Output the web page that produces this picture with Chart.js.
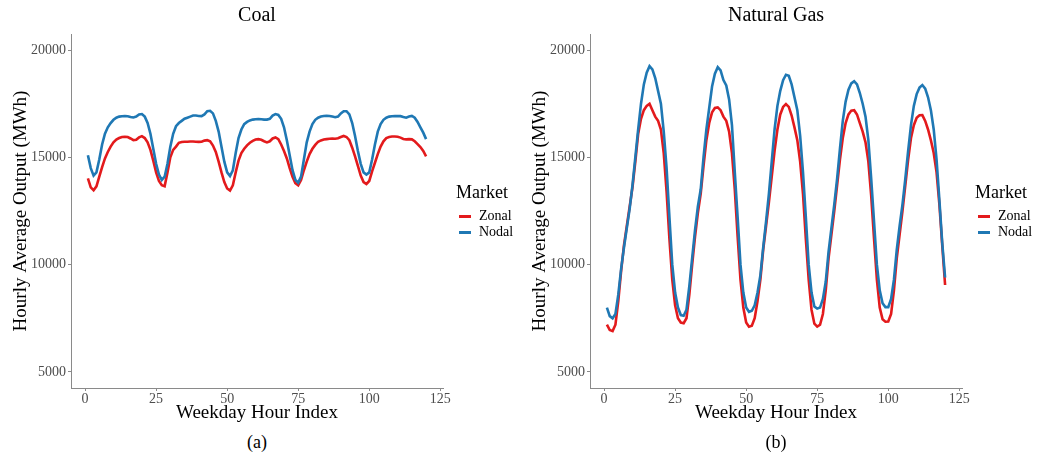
<!DOCTYPE html>
<html>
<head>
<meta charset="utf-8">
<script src="https://cdn.jsdelivr.net/npm/chart.js@4.4.1/dist/chart.umd.min.js"></script>
<style>
  html, body { margin: 0; padding: 0; background: #ffffff; }
  body { width: 1039px; height: 460px; position: relative; overflow: hidden; font-family: "Liberation Serif", "DejaVu Serif", serif; }
  .panel { position: absolute; top: 0; width: 520px; height: 460px; }
  .panel canvas { position: absolute; left: 0; top: 0; }
  .ptitle { position: absolute; top: 2px; left: 257px; transform: translateX(-50%); font-size: 20px; line-height: 24px; color: #000; white-space: nowrap; }
  .cap { position: absolute; top: 431px; left: 257px; transform: translateX(-50%); font-size: 18px; line-height: 22px; color: #000; white-space: nowrap; }
  .legend { position: absolute; left: 456px; top: 181px; color: #000; }
  .legend .lt { font-size: 18px; line-height: 22px; margin-bottom: 5px; }
  .legend .it { position: relative; height: 16px; font-size: 14px; line-height: 16px; padding-left: 23px; }
  .legend .it i { position: absolute; left: 3px; top: 7px; width: 12px; height: 2.5px; }
</style>
</head>
<body>
<div class="panel" id="p1" style="left:0px">
  <canvas id="c1" width="520" height="426"></canvas>
  <div class="ptitle">Coal</div>
  <div class="legend">
    <div class="lt">Market</div>
    <div class="it"><i style="background:#e31a1c"></i>Zonal</div>
    <div class="it"><i style="background:#1f78b4"></i>Nodal</div>
  </div>
  <div class="cap">(a)</div>
</div>
<div class="panel" id="p2" style="left:519px">
  <canvas id="c2" width="520" height="426"></canvas>
  <div class="ptitle">Natural Gas</div>
  <div class="legend">
    <div class="lt">Market</div>
    <div class="it"><i style="background:#e31a1c"></i>Zonal</div>
    <div class="it"><i style="background:#1f78b4"></i>Nodal</div>
  </div>
  <div class="cap">(b)</div>
</div>
<script>
// ---- data ----
const hours = Array.from({length: 120}, (_, i) => i + 1);
const xTicks = [0, 25, 50, 75, 100, 125];
const yTicks = [5000, 10000, 15000, 20000];
const seriesNames = ["Zonal", "Nodal"];

const coalZonal = [
  14020,13600,13470,13650,14100,14550,14950,15250,15500,15700,15830,15900,15950,15960,15950,15880,15800,15820,15930,15990,15900,15700,15350,14850,
  14300,13900,13700,13650,14300,15000,15350,15500,15680,15720,15730,15730,15740,15740,15730,15720,15730,15780,15800,15750,15550,15250,14800,14300,
  13850,13550,13450,13700,14300,14850,15200,15400,15560,15680,15770,15830,15850,15820,15750,15700,15750,15880,15930,15850,15600,15300,14950,14500,
  14100,13800,13700,13950,14400,14800,15150,15400,15580,15730,15790,15830,15850,15870,15880,15870,15890,15950,16000,15950,15800,15450,15050,14600,
  14150,13850,13760,13900,14350,14750,15150,15500,15750,15900,15950,15970,15970,15960,15920,15860,15840,15850,15840,15750,15620,15480,15300,15050
];
const coalNodal = [
  15100,14500,14150,14300,14900,15600,16100,16400,16600,16750,16850,16900,16920,16930,16920,16880,16860,16900,17000,17020,16900,16600,16100,15400,
  14700,14200,13950,14100,14700,15500,16100,16450,16600,16700,16800,16850,16900,16950,16950,16930,16920,17000,17150,17170,17050,16700,16200,15500,
  14800,14300,14130,14400,15200,15900,16300,16550,16650,16720,16760,16780,16790,16780,16760,16760,16800,16950,17020,16980,16800,16400,15800,15100,
  14400,13950,13820,14100,14900,15700,16200,16550,16750,16850,16900,16930,16940,16930,16900,16870,16900,17050,17150,17150,17000,16600,16000,15300,
  14700,14300,14200,14300,14900,15600,16200,16550,16750,16850,16900,16920,16930,16920,16920,16880,16850,16900,16930,16850,16650,16400,16150,15850
];
const gasZonal = [
  7200,6950,6900,7200,8300,9700,10900,11800,12700,13600,14800,16100,16800,17200,17400,17500,17200,16900,16700,16300,15200,13400,11200,9300,
  8100,7500,7300,7270,7500,8600,10000,11300,12400,13300,14600,15800,16600,17100,17300,17330,17200,16900,16700,16200,15200,13500,11300,9300,
  8000,7300,7110,7150,7500,8300,9300,10700,11800,12900,14100,15300,16300,17000,17350,17480,17350,16950,16400,15800,14800,13300,11200,9300,
  7900,7250,7110,7200,7700,8800,10300,11400,12500,13700,14900,15900,16600,17000,17180,17200,17000,16600,16200,15700,14800,13200,11200,9300,
  8000,7450,7340,7350,7700,8800,10300,11400,12500,13700,14900,15900,16500,16850,16960,16970,16700,16300,15800,15200,14300,12800,10900,9050
];
const gasNodal = [
  8000,7600,7500,7700,8600,9800,10800,11700,12600,13700,15000,16300,17500,18400,18950,19250,19100,18700,18100,17500,16200,14500,12200,10000,
  8700,8000,7650,7620,7900,9000,10300,11600,12700,13500,15000,16300,17300,18300,18900,19200,19050,18600,18350,17700,16500,14300,12200,10000,
  8700,8000,7800,7850,8100,8700,9500,10800,12000,13300,14800,16300,17400,18100,18600,18850,18800,18400,17800,17200,16000,14300,12200,10000,
  8700,8050,7950,8000,8400,9200,10600,11700,12800,14000,15400,16700,17600,18150,18450,18550,18400,18000,17500,16900,15800,14000,12000,10000,
  8800,8200,8020,8020,8400,9300,10700,11800,12800,14000,15300,16500,17400,17950,18250,18370,18200,17800,17200,16300,14900,13000,11000,9400
];

// ---- styles ----
const RED = "#e31a1c", BLUE = "#1f78b4";
const AXIS = "#8a8a8a", TICKTXT = "#4d4d4d";
const FONT = "'Liberation Serif', 'DejaVu Serif', serif";

function pts(vals) { return hours.map((h, i) => ({x: h, y: vals[i]})); }

function makeChart(id, zonal, nodal) {
  return new Chart(document.getElementById(id), {
    type: "line",
    data: {
      datasets: [
        {label: seriesNames[0], data: pts(zonal), borderColor: RED, backgroundColor: RED, borderWidth: 2.6, pointRadius: 0, tension: 0, order: 2},
        {label: seriesNames[1], data: pts(nodal), borderColor: BLUE, backgroundColor: BLUE, borderWidth: 2.6, pointRadius: 0, tension: 0, order: 1}
      ]
    },
    options: {
      responsive: false,
      animation: false,
      devicePixelRatio: 1,
      layout: {padding: {left: 0, top: 34, right: 77, bottom: 0}},
      plugins: {legend: {display: false}, tooltip: {enabled: false}, title: {display: false}},
      scales: {
        x: {
          type: "linear", min: -4.95, max: 125.95,
          afterBuildTicks: s => { s.ticks = xTicks.map(v => ({value: v})); },
          afterFit: s => { s.height = 38; },
          grid: {drawOnChartArea: false, drawTicks: true, tickLength: 3, color: AXIS, lineWidth: 1},
          border: {display: true, color: AXIS, width: 1},
          ticks: {color: TICKTXT, font: {family: FONT, size: 14}, padding: 0, maxRotation: 0, autoSkip: false, callback: v => String(v)},
          title: {display: true, text: "Weekday Hour Index", color: "#000", font: {family: FONT, size: 19}, padding: {top: 0, bottom: 2}}
        },
        y: {
          type: "linear", min: 4250, max: 20750,
          afterBuildTicks: s => { s.ticks = yTicks.map(v => ({value: v})); },
          afterFit: s => { s.width = 71; },
          grid: {drawOnChartArea: false, drawTicks: true, tickLength: 3, color: AXIS, lineWidth: 1},
          border: {display: true, color: AXIS, width: 1},
          ticks: {color: TICKTXT, font: {family: FONT, size: 14}, padding: 2, autoSkip: false, callback: v => String(v)},
          title: {display: true, text: "Hourly Average Output (MWh)", color: "#000", font: {family: FONT, size: 19}, padding: {top: 10, bottom: 0}}
        }
      }
    }
  });
}

makeChart("c1", coalZonal, coalNodal);
makeChart("c2", gasZonal, gasNodal);
</script>
</body>
</html>
